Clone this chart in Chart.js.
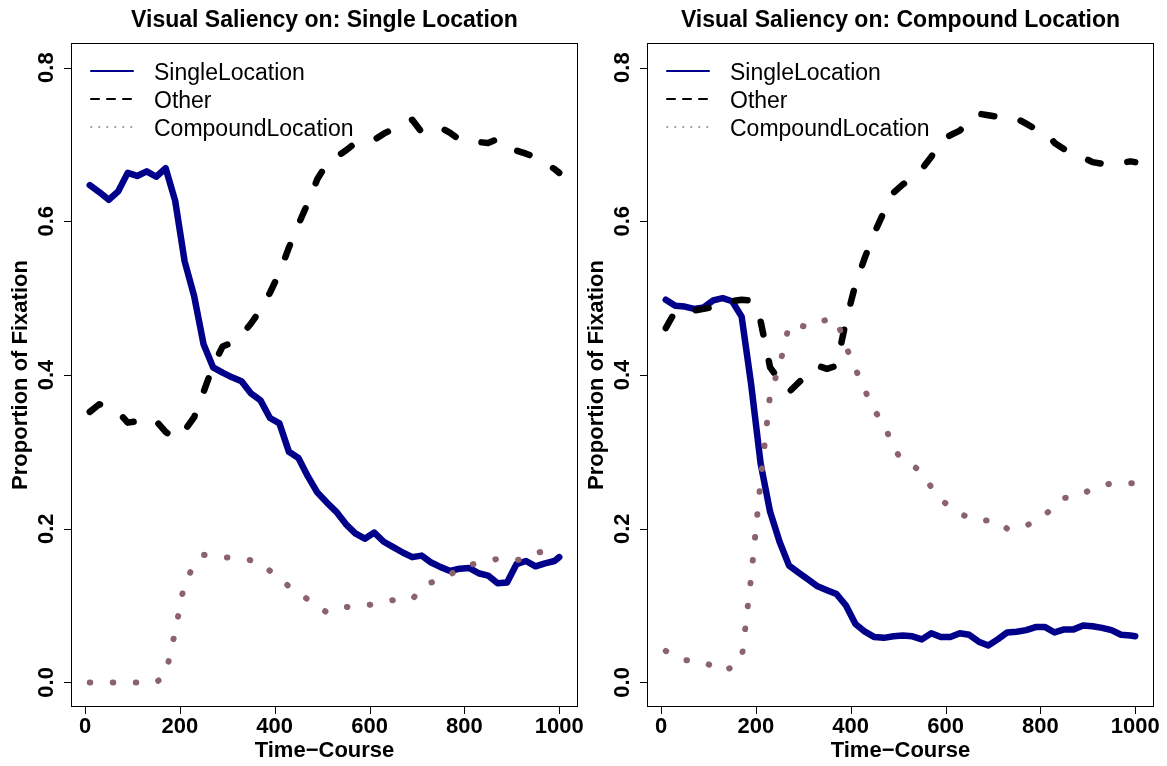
<!DOCTYPE html>
<html>
<head>
<meta charset="utf-8">
<title>Visual Saliency</title>
<script src="https://cdn.jsdelivr.net/npm/chart.js@4"></script>
<style>
  body { margin: 0; background: #fff; }
  #wrap { position: relative; width: 1167px; height: 766px; overflow: hidden; }
  .panel { position: absolute; top: 0; }
</style>
</head>
<body>
<div id="wrap">
  <div class="panel" style="left:0"><canvas id="chartSingle" width="590" height="766"></canvas></div>
  <div class="panel" style="left:576px"><canvas id="chartCompound" width="591" height="766"></canvas></div>
</div>
<script>
// time points (ms)
var timeCourse = [10, 30, 50, 70, 90, 110, 130, 150, 170, 190,
  210, 230, 250, 270, 290, 310, 330, 350, 370, 390,
  410, 430, 450, 470, 490, 510, 530, 550, 570, 590,
  610, 630, 650, 670, 690, 710, 730, 750, 770, 790,
  810, 830, 850, 870, 890, 910, 930, 950, 970, 990, 1000];
var xTicks = [0, 200, 400, 600, 800, 1000];
var yTicks = [0, 0.2, 0.4, 0.6, 0.8];
var seriesNames = ['SingleLocation', 'Other', 'CompoundLocation'];

// panel 1: saliency on single location
var singleSL = [0.647, 0.638, 0.628, 0.639, 0.663, 0.659, 0.665, 0.658, 0.669, 0.627,
  0.548, 0.503, 0.440, 0.410, 0.403, 0.397, 0.392, 0.376, 0.367, 0.344,
  0.337, 0.300, 0.292, 0.268, 0.247, 0.234, 0.222, 0.206, 0.194, 0.187,
  0.195, 0.183, 0.176, 0.169, 0.163, 0.165, 0.156, 0.150, 0.145, 0.148,
  0.149, 0.142, 0.139, 0.129, 0.130, 0.154, 0.158, 0.151, 0.155, 0.158, 0.163];
var singleOther = [0.352, 0.362, 0.357, 0.352, 0.338, 0.340, 0.344, 0.340, 0.326, 0.317,
  0.328, 0.345, 0.378, 0.412, 0.437, 0.442, 0.452, 0.467, 0.485, 0.507,
  0.533, 0.566, 0.596, 0.624, 0.655, 0.675, 0.684, 0.692, 0.702, 0.704,
  0.706, 0.714, 0.720, 0.728, 0.732, 0.716, 0.720, 0.722, 0.715, 0.706,
  0.704, 0.703, 0.702, 0.707, 0.702, 0.692, 0.688, 0.683, 0.676, 0.668, 0.663];
var singleCL = [0, 0, 0, 0, 0, 0, 0, 0, 0.010, 0.066,
  0.130, 0.152, 0.166, 0.165, 0.163, 0.162, 0.160, 0.159, 0.156, 0.145,
  0.135, 0.125, 0.116, 0.108, 0.100, 0.091, 0.094, 0.098, 0.099, 0.100,
  0.102, 0.105, 0.107, 0.107, 0.108, 0.123, 0.130, 0.133, 0.140, 0.149,
  0.153, 0.155, 0.157, 0.161, 0.161, 0.159, 0.162, 0.168, 0.171, 0.173, 0.174];

// panel 2: saliency on compound location
var compoundSL = [0.498, 0.490, 0.489, 0.486, 0.488, 0.497, 0.500, 0.496, 0.476, 0.388,
  0.285, 0.222, 0.183, 0.152, 0.143, 0.134, 0.125, 0.120, 0.115, 0.100,
  0.076, 0.066, 0.059, 0.058, 0.060, 0.061, 0.060, 0.056, 0.064, 0.059,
  0.059, 0.064, 0.062, 0.053, 0.048, 0.056, 0.065, 0.066, 0.068, 0.072,
  0.072, 0.065, 0.069, 0.069, 0.074, 0.073, 0.071, 0.068, 0.062, 0.061, 0.060];
var compoundOther = [0.461, 0.483, 0.483, 0.484, 0.486, 0.489, 0.493, 0.496, 0.498, 0.497,
  0.470, 0.410, 0.393, 0.378, 0.390, 0.402, 0.412, 0.408, 0.412, 0.470,
  0.518, 0.553, 0.585, 0.612, 0.637, 0.648, 0.657, 0.668, 0.684, 0.705,
  0.712, 0.718, 0.730, 0.740, 0.738, 0.736, 0.735, 0.734, 0.727, 0.720,
  0.717, 0.702, 0.694, 0.691, 0.683, 0.677, 0.675, 0.674, 0.676, 0.678, 0.677];
var compoundCL = [0.041, 0.033, 0.029, 0.028, 0.027, 0.020, 0.014, 0.020, 0.030, 0.137,
  0.262, 0.375, 0.412, 0.465, 0.465, 0.462, 0.468, 0.472, 0.472, 0.437,
  0.408, 0.380, 0.353, 0.338, 0.304, 0.289, 0.283, 0.273, 0.254, 0.238,
  0.228, 0.220, 0.214, 0.210, 0.211, 0.210, 0.200, 0.199, 0.204, 0.210,
  0.218, 0.230, 0.240, 0.241, 0.245, 0.253, 0.256, 0.259, 0.259, 0.259, 0.259];

var NAVY = '#00008B', PINK4 = '#8B636C';
var FONT = '"Liberation Sans", Arial, Helvetica, sans-serif';

function toPoints(vals) {
  return timeCourse.map(function (t, i) { return { x: t, y: vals[i] }; });
}

// R-style box, axes, labels, title and legend
var rStyle = {
  id: 'rStyle',
  afterDraw: function (chart, args, opts) {
    var ctx = chart.ctx, a = chart.chartArea;
    var xs = chart.scales.x, ys = chart.scales.y;
    ctx.save();
    ctx.strokeStyle = '#000';
    ctx.lineWidth = 1;
    ctx.strokeRect(a.left + 0.5, a.top + 0.5, a.right - a.left - 1, a.bottom - a.top - 1);

    ctx.beginPath();
    xTicks.forEach(function (v) {
      var px = Math.round(xs.getPixelForValue(v)) + 0.5;
      ctx.moveTo(px, a.bottom); ctx.lineTo(px, a.bottom + 7);
    });
    yTicks.forEach(function (v) {
      var py = Math.round(ys.getPixelForValue(v)) + 0.5;
      ctx.moveTo(a.left, py); ctx.lineTo(a.left - 7, py);
    });
    ctx.stroke();

    ctx.fillStyle = '#000';
    ctx.font = 'bold 22px ' + FONT;
    ctx.textAlign = 'center';
    ctx.textBaseline = 'alphabetic';
    xTicks.forEach(function (v) {
      ctx.fillText(String(v), xs.getPixelForValue(v), 733);
    });
    yTicks.forEach(function (v) {
      ctx.save();
      ctx.translate(53, ys.getPixelForValue(v));
      ctx.rotate(-Math.PI / 2);
      ctx.fillText(v.toFixed(1), 0, 0);
      ctx.restore();
    });

    var cx = (a.left + a.right) / 2, cy = (a.top + a.bottom) / 2;
    ctx.fillText('Time\u2212Course', cx, 757);
    ctx.save();
    ctx.translate(27, cy);
    ctx.rotate(-Math.PI / 2);
    ctx.fillText('Proportion of Fixation', 0, 0);
    ctx.restore();

    ctx.font = 'bold 23px ' + FONT;
    ctx.fillText(opts.title, cx, 27);

    // legend
    var styles = [
      { color: NAVY, dash: [] },
      { color: '#000', dash: [8, 8] },
      { color: PINK4, dash: [0.5, 7.5] }
    ];
    ctx.font = '23px ' + FONT;
    ctx.textAlign = 'left';
    seriesNames.forEach(function (name, i) {
      var y = 71 + 28 * i;
      ctx.save();
      ctx.strokeStyle = styles[i].color;
      ctx.lineWidth = i === 2 ? 1.5 : 2;
      ctx.lineCap = 'round';
      ctx.setLineDash(styles[i].dash);
      ctx.beginPath();
      ctx.moveTo(91, y); ctx.lineTo(133, y);
      ctx.stroke();
      ctx.restore();
      ctx.fillText(name, 154, y + 8.5);
    });
    ctx.restore();
  }
};

function makeChart(id, title, sl, other, cl) {
  var canvas = document.getElementById(id);
  return new Chart(canvas.getContext('2d'), {
    type: 'line',
    data: {
      datasets: [{
        label: seriesNames[0],
        data: toPoints(sl),
        borderColor: NAVY,
        borderWidth: 6.5,
        order: 3
      }, {
        label: seriesNames[1],
        data: toPoints(other),
        borderColor: '#000',
        borderWidth: 6.5,
        borderDash: [13, 27],
        order: 2
      }, {
        label: seriesNames[2],
        data: toPoints(cl),
        borderColor: PINK4,
        borderWidth: 6,
        borderDash: [0.5, 22.5],
        order: 1
      }]
    },
    options: {
      responsive: false,
      animation: false,
      events: [],
      elements: {
        point: { radius: 0 },
        line: { tension: 0, fill: false, borderCapStyle: 'round', borderJoinStyle: 'round' }
      },
      layout: { padding: { top: 43, left: 0, right: canvas.width - 578, bottom: 0 } },
      plugins: {
        legend: { display: false },
        title: { display: false },
        tooltip: { enabled: false },
        rStyle: { title: title }
      },
      scales: {
        x: {
          type: 'linear', min: -29.6, max: 1039.6,
          grid: { display: false }, border: { display: false },
          ticks: { display: false },
          afterFit: function (s) { s.height = 59; }
        },
        y: {
          type: 'linear', min: -0.032, max: 0.832,
          grid: { display: false }, border: { display: false },
          ticks: { display: false },
          afterFit: function (s) { s.width = 71; }
        }
      }
    },
    plugins: [rStyle]
  });
}

makeChart('chartSingle', 'Visual Saliency on: Single Location', singleSL, singleOther, singleCL);
makeChart('chartCompound', 'Visual Saliency on: Compound Location', compoundSL, compoundOther, compoundCL);
</script>
</body>
</html>
